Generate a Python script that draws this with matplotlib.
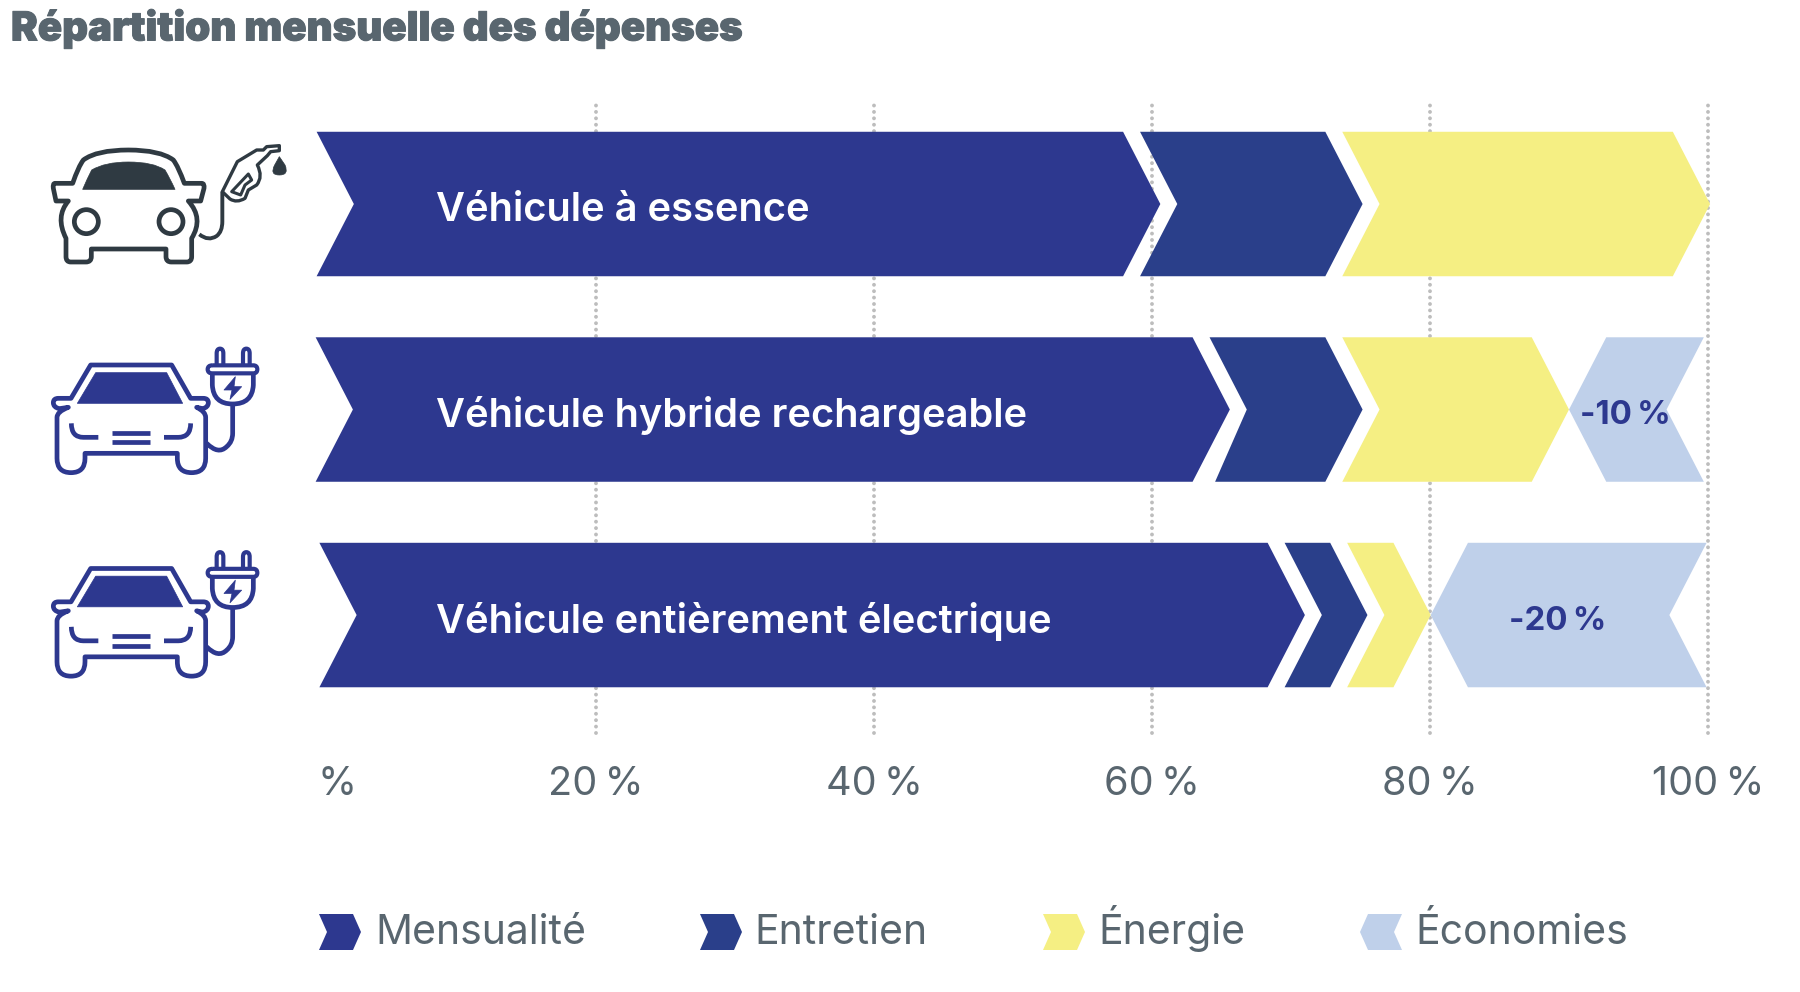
import matplotlib
matplotlib.use('Agg')
import matplotlib.pyplot as plt
import matplotlib.patheffects as pe
from matplotlib.patches import Polygon, PathPatch, Circle
from matplotlib.path import Path

plt.rcParams['font.family'] = ['Inter', 'DejaVu Sans']
plt.rcParams['lines.scale_dashes'] = False

title = 'Répartition mensuelle des dépenses'
vehicles = ['Véhicule à essence', 'Véhicule hybride rechargeable', 'Véhicule entièrement électrique']
bar_start = [-0.1, -0.17, 0.1]
mensualite = [60.6, 65.6, 71.0]
entretien = [14.55, 9.55, 4.5]
energie = [25.0, 14.85, 4.55]
economies = [0, 9.7, 19.85]
economies_labels = ['', '-10\u2009%', '-20\u2009%']
ticks = [0, 20, 40, 60, 80, 100]
tick_labels = ['%', '20\u2009%', '40\u2009%', '60\u2009%', '80\u2009%', '100\u2009%']
legend_names = ['Mensualité', 'Entretien', 'Énergie', 'Économies']

GREY = '#59666f'
DARK = '#2f3a42'
BLUE = '#2d388f'
colors = [BLUE, '#2a3f8a', '#f5ef83', '#bfd0ea']

DEPTH = 2.68   # chevron point, in %
GAP = 1.22
BAR_H = 0.703

fig = plt.figure(figsize=(18, 9.92), dpi=100)
ax = fig.add_axes([318 / 1800, 1 - 733 / 992, 1390 / 1800, 630 / 992])
ax.set_xlim(0, 100)
ax.set_ylim(2.574, -0.4915)
for s in ax.spines.values():
    s.set_visible(False)
ax.set_yticks([])
ax.set_xticks(ticks)
ax.set_xticklabels(tick_labels, fontsize=28.6, color=GREY)
ax.tick_params(axis='x', length=0, pad=24)
ax.get_xticklabels()[0].set_ha('left')
ax.set_axisbelow(True)
ax.grid(axis='x', color='#bdbdbd', lw=2.8, linestyle=(0, (0.01, 4.6)), dash_capstyle='round', clip_on=False)
ax.get_xgridlines()[0].set_visible(False)


def chevron(row, left, tip, color, skew=0):
    # left = top left corner, tip = point on the right, skew moves the bottom left corner
    top, bot = row - BAR_H / 2, row + BAR_H / 2
    pts = [(left, top), (tip - DEPTH, top), (tip, row), (tip - DEPTH, bot), (left + skew, bot), (left + DEPTH, row)]
    ax.add_patch(Polygon(pts, closed=True, fc=color, ec='none', clip_on=False, zorder=3))


for i, name in enumerate(vehicles):
    t1 = mensualite[i]
    t2 = t1 + entretien[i]
    t3 = t2 + energie[i]
    chevron(i, bar_start[i], t1, colors[0])
    # the hybrid row has its lower corner slightly off in the reference
    chevron(i, t1 - DEPTH + GAP, t2, colors[1], skew=0.4 if i == 1 else 0)
    chevron(i, t2 - DEPTH + GAP, t3, colors[2])
    if economies[i] > 0:
        # points the other way
        end = t3 + economies[i]
        top, bot = i - BAR_H / 2, i + BAR_H / 2
        pts = [(t3, i), (t3 + DEPTH, top), (end, top), (end - DEPTH, i), (end, bot), (t3 + DEPTH, bot)]
        ax.add_patch(Polygon(pts, closed=True, fc=colors[3], ec='none', clip_on=False, zorder=3))
        ax.text(t3 + economies[i] / 2 - 0.8, i + 0.03, economies_labels[i], ha='center', va='center',
                fontsize=23.8, fontweight='bold', color=BLUE, zorder=4)
    ax.text(8.5, i + 0.03, name, ha='left', va='center', fontsize=28.7, fontweight='semibold', color='white', zorder=4)

# overlay in pixels for title, icons and legend
pix = fig.add_axes([0, 0, 1, 1])
pix.set_xlim(0, 1800)
pix.set_ylim(992, 0)
pix.axis('off')
pix.patch.set_alpha(0)

pix.text(11, 29, title, fontsize=28.9, fontweight='black', color=GREY, ha='left', va='center',
         path_effects=[pe.withStroke(linewidth=0.7, foreground=GREY)])


def shape(pts, dy, color, lw=3.4, fill=False, closed=False):
    # pts in 3x zoom coordinates: (x, y) = line, (cx, cy, x, y) = quadratic curve
    verts, codes = [], []
    for n, p in enumerate(pts):
        if n == 0:
            verts.append((p[0] / 3, dy + p[1] / 3))
            codes.append(Path.MOVETO)
        elif len(p) == 2:
            verts.append((p[0] / 3, dy + p[1] / 3))
            codes.append(Path.LINETO)
        else:
            verts += [(p[0] / 3, dy + p[1] / 3), (p[2] / 3, dy + p[3] / 3)]
            codes += [Path.CURVE3, Path.CURVE3]
    if closed:
        verts.append(verts[0])
        codes.append(Path.CLOSEPOLY)
    pix.add_patch(PathPatch(Path(verts, codes), fc=color if fill else 'none', ec=color, lw=lw if not fill else 0.5,
                            capstyle='butt', joinstyle='round'))


def gas_car(dy):
    c = DARK
    shape([(218, 250), (165, 250), (158, 250, 160, 265), (168, 303), (205, 303), (165, 350, 198, 415), (198, 470),
           (198, 486, 212, 486), (258, 486), (274, 486, 274, 470), (274, 447), (498, 447), (498, 470),
           (498, 486, 514, 486), (560, 486), (575, 486, 575, 470), (575, 415), (612, 355, 565, 303), (602, 303),
           (612, 265), (614, 250, 605, 250), (553, 250), (535, 200, 520, 180), (480, 150, 385, 150),
           (290, 150, 250, 180), (235, 200, 218, 250)], dy, c, closed=True)
    shape([(248, 268), (262, 235, 275, 210), (315, 186, 385, 186), (460, 186, 495, 210), (510, 235, 525, 268)], dy, c,
          fill=True, closed=True)
    for cx in (259, 513):
        pix.add_patch(Circle((cx / 3, dy + 365 / 3), 12, fc='none', ec=c, lw=3.4))
    shape([(598, 403), (625, 425, 650, 408), (667, 395, 667, 365), (667, 275)], dy, c, lw=2.8)
    shape([(667, 275), (712, 185), (770, 150), (790, 150), (800, 140), (838, 137), (838, 152), (812, 155), (802, 167),
           (772, 195), (790, 230, 770, 255), (745, 270), (735, 295), (710, 310, 690, 297)], dy, c, lw=2.4, closed=True)
    shape([(695, 275), (745, 222), (755, 240), (735, 255), (722, 285)], dy, c, lw=2.2, closed=True)
    shape([(838, 170), (855, 195), (868, 225, 838, 225), (808, 225, 824, 195)], dy, c, fill=True, closed=True)


def ev_car(dy):
    c = BLUE
    shape([(213, 205), (272, 105), (515, 105), (572, 205), (610, 205), (625, 205, 625, 218), (625, 232, 608, 236),
           (590, 232), (617, 245, 617, 262), (617, 385), (617, 428, 575, 428), (532, 428, 532, 385), (532, 370),
           (255, 370), (255, 385), (255, 428, 213, 428), (171, 428, 171, 385), (171, 262), (171, 245, 205, 232),
           (178, 236), (160, 232, 160, 218), (160, 205, 175, 205)], dy, c, closed=True)
    shape([(232, 220), (287, 128), (500, 128), (548, 220)], dy, c, fill=True, closed=True)
    shape([(214, 280), (214, 322, 250, 322), (295, 322)], dy, c)
    shape([(572, 280), (572, 322, 535, 322), (492, 322)], dy, c)
    shape([(337, 308), (450, 308)], dy, c)
    shape([(337, 336), (450, 336)], dy, c)
    # plug
    shape([(620, 340), (655, 375, 680, 350), (698, 335, 698, 310), (698, 225)], dy, c)
    for x0 in (650, 729):
        shape([(x0, 105), (x0, 70), (x0, 56, x0 + 10, 56), (x0 + 20, 56, x0 + 20, 70), (x0 + 20, 105)], dy, c, lw=3)
    shape([(637, 106), (760, 106), (772, 106, 772, 118), (772, 130, 760, 130), (637, 130), (623, 130, 623, 118),
           (623, 106, 637, 106)], dy, c, lw=3)
    shape([(637, 130), (637, 165), (640, 222, 698, 222), (757, 222, 760, 165), (760, 130)], dy, c)
    shape([(706, 140), (672, 180), (696, 180), (690, 208), (725, 170), (702, 170)], dy, c, fill=True, closed=True)


gas_car(100)
ev_car(330)
ev_car(533.5)

# legend
leg_x = [319, 700, 1043, 1360]
text_x = [375, 754, 1098, 1415]
for x, tx, name, col in zip(leg_x, text_x, legend_names, colors):
    y0, y1, ym = 914, 950, 932
    if name == 'Économies':
        pts = [(x, ym), (x + 8, y0), (x + 42, y0), (x + 34, ym), (x + 42, y1), (x + 8, y1)]
    else:
        pts = [(x, y0), (x + 34, y0), (x + 42, ym), (x + 34, y1), (x, y1), (x + 8, ym)]
    pix.add_patch(Polygon(pts, closed=True, fc=col, ec='none'))
    pix.text(tx, 944, name, fontsize=29.5, color=GREY, ha='left', va='baseline')

fig.savefig('out.png', dpi=100)
